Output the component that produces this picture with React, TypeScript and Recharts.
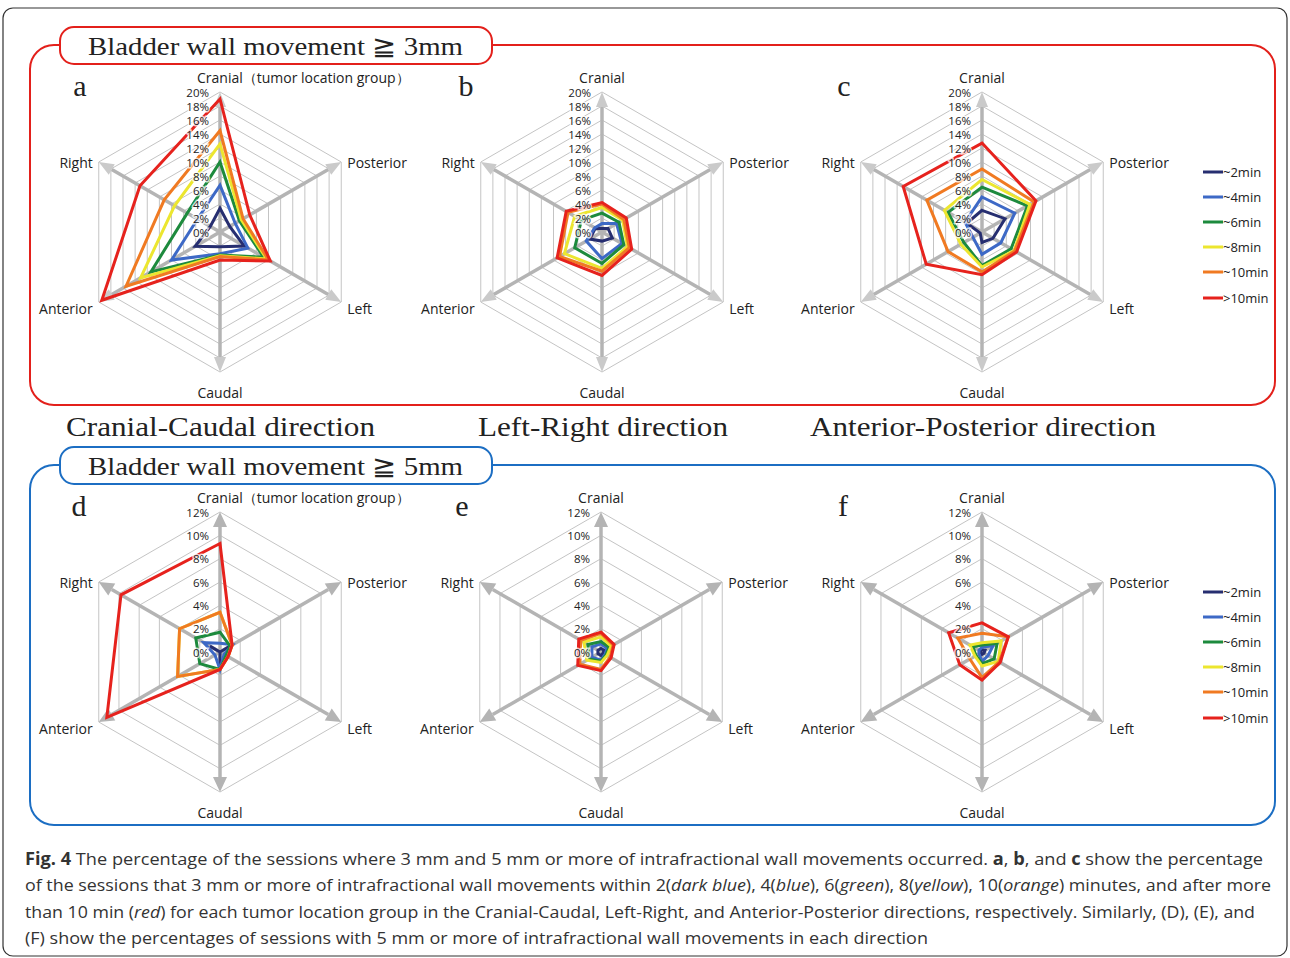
import React from "react";
import {
  Legend,
  PolarAngleAxis,
  PolarGrid,
  PolarRadiusAxis,
  Radar,
  RadarChart,
} from "recharts";

// axis order runs clockwise from the top
const directions = ["Cranial", "Posterior", "Left", "Caudal", "Anterior", "Right"];
const seriesNames = ["~2min", "~4min", "~6min", "~8min", "~10min", ">10min"];
const seriesColors = ["#262e70", "#3d69c6", "#1d8a3d", "#ece62f", "#f07a22", "#e6221d"];

// percent of sessions, one row per series, one column per direction
const move3CranialCaudal = [
  [3.4, 1.6, 4.0, 2.1, 4.1, 1.6],
  [6.7, 2.5, 4.6, 3.1, 8.0, 3.7],
  [10.0, 3.2, 7.2, 3.3, 11.4, 5.4],
  [12.6, 3.5, 7.7, 3.4, 13.1, 7.5],
  [14.5, 3.8, 8.0, 3.5, 15.5, 9.2],
  [19.0, 4.9, 8.3, 4.0, 19.5, 13.2],
];
const move3LeftRight = [
  [0.5, 1.0, 1.7, 1.3, 2.0, 1.1],
  [1.2, 2.4, 3.3, 3.8, 2.6, 1.2],
  [2.7, 2.8, 3.6, 4.5, 4.5, 3.4],
  [3.5, 3.4, 4.2, 5.2, 6.2, 4.5],
  [4.0, 3.6, 4.5, 5.6, 7.0, 5.6],
  [4.2, 4.0, 4.9, 6.2, 7.4, 5.9],
];
const move3AntPost = [
  [3.1, 3.8, 1.8, 1.5, 0.3, 2.5],
  [5.0, 5.4, 3.1, 3.2, 1.5, 2.8],
  [6.4, 7.5, 4.8, 4.8, 3.0, 5.6],
  [7.5, 7.9, 5.3, 5.0, 3.5, 6.2],
  [9.0, 8.6, 5.4, 5.7, 5.6, 9.1],
  [12.7, 8.9, 5.7, 6.1, 9.2, 13.0],
];
const move5CranialCaudal = [
  [0, 1.0, 0, 1.2, 0, 1.0],
  [0.75, 1.25, 0.4, 1.5, 0.5, 1.6],
  [1.7, 1.0, 0.6, 1.5, 2.0, 2.4],
  [3.4, 1.2, 0.8, 1.5, 4.2, 4.0],
  [3.4, 1.2, 0.8, 1.5, 4.2, 4.0],
  [9.3, 1.2, 0.8, 1.5, 11.2, 9.8],
];
const move5LeftRight = [
  [0.3, 0.3, 0.2, 0.3, 0.3, 0.3],
  [0.7, 0.6, 0.4, 0.7, 0.9, 0.9],
  [0.9, 0.8, 0.5, 0.8, 1.2, 1.3],
  [1.3, 1.0, 0.6, 0.9, 1.4, 1.7],
  [1.6, 1.2, 0.9, 1.5, 2.1, 2.0],
  [1.7, 1.3, 1.0, 1.6, 2.3, 2.2],
];
const move5AntPost = [
  [0.2, 0.3, 0.2, 0.2, 0.1, 0.2],
  [0.4, 1.1, 0.6, 0.8, 0.3, 0.3],
  [0.6, 1.5, 1.2, 1.0, 0.6, 0.9],
  [0.8, 1.9, 1.6, 1.2, 0.7, 1.2],
  [1.6, 2.6, 1.7, 2.2, 1.2, 2.4],
  [2.5, 2.6, 1.8, 2.4, 2.2, 3.3],
];

const ticks3mm = [0, 2, 4, 6, 8, 10, 12, 14, 16, 18, 20];
const ticks5mm = [0, 2, 4, 6, 8, 10, 12];

const CX = 190;
const CY = 175;
const R = 140;
const SANS = "'Open Sans', 'Noto Sans', sans-serif";
const SERIF = "'Liberation Serif', 'DejaVu Serif', serif";

const toRows = (values: number[][]) =>
  directions.map((dir, i) => {
    const row: Record<string, string | number> = { dir };
    seriesNames.forEach((_, j) => {
      row[`s${j}`] = values[j][i];
    });
    return row;
  });

// spoke, arrow head and direction name for one category
function AngleTick(props: any) {
  const { payload, note, arrowColor, arrowHalf } = props;
  const a = (payload.coordinate * Math.PI) / 180;
  const ux = Math.cos(a);
  const uy = -Math.sin(a);
  const tx = CX + ux * R;
  const ty = CY + uy * R;
  const bx = CX + ux * (R - 15);
  const by = CY + uy * (R - 15);
  const px = -uy * arrowHalf;
  const py = ux * arrowHalf;

  let lx = tx;
  let ly = ty;
  let anchor: "start" | "middle" | "end" = "middle";
  let label = payload.value;
  if (Math.abs(ux) < 0.01) {
    ly = uy < 0 ? ty - 15 : ty + 20;
    if (uy < 0 && note) {
      // keep "Cranial" centred on the spoke, the note runs on to the right
      label = `${payload.value}（tumor location group）`;
      anchor = "start";
      lx = tx - 23;
    }
  } else {
    anchor = ux > 0 ? "start" : "end";
    lx = tx + (ux > 0 ? 6 : -6);
    ly = ty + (uy > 0 ? 6 : 0);
  }

  return (
    <g>
      <line x1={CX} y1={CY} x2={bx} y2={by} stroke="#b4b4b4" strokeWidth={3.5} />
      <polygon
        points={`${tx},${ty} ${bx + px},${by + py} ${bx - px},${by - py}`}
        fill={arrowColor}
      />
      <text
        x={lx}
        y={ly}
        textAnchor={anchor}
        dominantBaseline="central"
        fontFamily={SANS}
        fontSize={14}
        fill="#222"
      >
        {label}
      </text>
    </g>
  );
}

function RadiusTick(props: any) {
  const { x, y, payload } = props;
  return (
    <text
      x={x - 11}
      y={y}
      textAnchor="end"
      dominantBaseline="central"
      fontFamily={SANS}
      fontSize={11.5}
      fill="#222"
      stroke="#fff"
      strokeOpacity={0.75}
      strokeWidth={3}
      paintOrder="stroke"
    >
      {`${payload.value}%`}
    </text>
  );
}

function TimeLegend(props: any) {
  const items = props.payload ?? [];
  return (
    <div style={{ fontFamily: SANS, fontSize: 13, color: "#222" }}>
      {seriesNames.map((name, i) => {
        const entry = items.find((it: any) => it.value === name);
        const color = entry?.color ?? seriesColors[i];
        return (
          <div key={name} style={{ display: "flex", alignItems: "center", height: 25.2 }}>
            <svg width={20} height={4} style={{ display: "block" }}>
              <line x1={0} y1={2} x2={20} y2={2} stroke={color} strokeWidth={3} />
            </svg>
            <span>{name}</span>
          </div>
        );
      })}
    </div>
  );
}

function Panel({
  values,
  ticks,
  left,
  top,
  width,
  note,
  legend,
  arrowColor,
  arrowHalf,
}: {
  values: number[][];
  ticks: number[];
  left: number;
  top: number;
  width: number;
  note: boolean;
  legend: boolean;
  arrowColor: string;
  arrowHalf: number;
}) {
  return (
    <div style={{ position: "absolute", left, top }}>
      <RadarChart
        width={width}
        height={350}
        data={toRows(values)}
        cx={CX}
        cy={CY}
        outerRadius={R}
        margin={{ top: 0, right: 0, bottom: 0, left: 0 }}
      >
        <PolarGrid gridType="polygon" radialLines={false} stroke="#c4c4c4" strokeWidth={1} />
        <PolarAngleAxis
          dataKey="dir"
          axisLine={false}
          tickLine={false}
          zIndex={-50}
          tick={(p: any) => (
            <AngleTick {...p} note={note} arrowColor={arrowColor} arrowHalf={arrowHalf} />
          )}
        />
        {seriesNames.map((name, j) => (
          <Radar
            key={name}
            name={name}
            dataKey={`s${j}`}
            stroke={seriesColors[j]}
            strokeWidth={3}
            fill="none"
            fillOpacity={0}
            dot={false}
            legendType="line"
            isAnimationActive={false}
          />
        ))}
        <PolarRadiusAxis
          angle={90}
          domain={[0, ticks[ticks.length - 1]]}
          tickCount={ticks.length}
          axisLine={false}
          tick={(p: any) => <RadiusTick {...p} />}
        />
        {legend ? (
          <Legend
            content={(p: any) => <TimeLegend {...p} />}
            wrapperStyle={{ position: "absolute", left: 411, top: 102, width: 80 }}
          />
        ) : null}
      </RadarChart>
    </div>
  );
}

export default function App() {
  const red = "#e3201b";
  const blue = "#1c6ec3";
  return (
    <div
      style={{
        position: "absolute",
        left: 0,
        top: 0,
        width: 1290,
        height: 958,
        overflow: "hidden",
        background: "#fff",
      }}
    >
      <svg width={1290} height={958} style={{ position: "absolute", left: 0, top: 0 }}>
        <rect x={3} y={8} width={1284} height={948} rx={10} fill="none" stroke="#333" strokeWidth={1.2} />

        <rect x={30} y={45} width={1245} height={360} rx={24} fill="none" stroke={red} strokeWidth={2} />
        <rect x={60} y={27} width={432} height={37} rx={14} fill="#fff" stroke={red} strokeWidth={2} />
        <text x={88} y={55} fontFamily={SERIF} fontSize={26} fill="#222" textLength={375} lengthAdjust="spacingAndGlyphs">
          Bladder wall movement ≧ 3mm
        </text>

        <rect x={30} y={465} width={1245} height={360} rx={24} fill="none" stroke={blue} strokeWidth={2} />
        <rect x={60} y={447} width={432} height={37} rx={14} fill="#fff" stroke={blue} strokeWidth={2} />
        <text x={88} y={475} fontFamily={SERIF} fontSize={26} fill="#222" textLength={375} lengthAdjust="spacingAndGlyphs">
          Bladder wall movement ≧ 5mm
        </text>

        <g fontFamily={SERIF} fontSize={28} fill="#222">
          <text x={66} y={436} textLength={309} lengthAdjust="spacingAndGlyphs">Cranial-Caudal direction</text>
          <text x={478} y={436} textLength={250} lengthAdjust="spacingAndGlyphs">Left-Right direction</text>
          <text x={810} y={436} textLength={346} lengthAdjust="spacingAndGlyphs">Anterior-Posterior direction</text>
        </g>

        <g fontFamily={SERIF} fontSize={30} fill="#222" textAnchor="middle">
          <text x={80} y={96}>a</text>
          <text x={466} y={96}>b</text>
          <text x={844} y={96}>c</text>
          <text x={79} y={516}>d</text>
          <text x={462} y={516}>e</text>
          <text x={843} y={516}>f</text>
        </g>

        <g fontFamily={SANS} fontSize={17} fill="#333">
          <text x={25} y={865} textLength={1238} lengthAdjust="spacingAndGlyphs">
            <tspan fontWeight="bold">Fig. 4</tspan> The percentage of the sessions where 3 mm and 5 mm or more of
            intrafractional wall movements occurred. <tspan fontWeight="bold">a</tspan>,{" "}
            <tspan fontWeight="bold">b</tspan>, and <tspan fontWeight="bold">c</tspan> show the percentage
          </text>
          <text x={25} y={891} textLength={1246} lengthAdjust="spacingAndGlyphs">
            of the sessions that 3 mm or more of intrafractional wall movements within 2(
            <tspan fontStyle="italic">dark blue</tspan>), 4(<tspan fontStyle="italic">blue</tspan>), 6(
            <tspan fontStyle="italic">green</tspan>), 8(<tspan fontStyle="italic">yellow</tspan>), 10(
            <tspan fontStyle="italic">orange</tspan>) minutes, and after more
          </text>
          <text x={25} y={918} textLength={1230} lengthAdjust="spacingAndGlyphs">
            than 10 min (<tspan fontStyle="italic">red</tspan>) for each tumor location group in the Cranial-Caudal,
            Left-Right, and Anterior-Posterior directions, respectively. Similarly, (D), (E), and
          </text>
          <text x={25} y={944} textLength={903} lengthAdjust="spacingAndGlyphs">
            (F) show the percentages of sessions with 5 mm or more of intrafractional wall movements in each direction
          </text>
        </g>
      </svg>

      <Panel values={move3CranialCaudal} ticks={ticks3mm} left={30} top={57} width={380} note legend={false} arrowColor="#cacaca" arrowHalf={6} />
      <Panel values={move3LeftRight} ticks={ticks3mm} left={412} top={57} width={380} note={false} legend={false} arrowColor="#cacaca" arrowHalf={6} />
      <Panel values={move3AntPost} ticks={ticks3mm} left={792} top={57} width={490} note={false} legend arrowColor="#cacaca" arrowHalf={6} />
      <Panel values={move5CranialCaudal} ticks={ticks5mm} left={30} top={477} width={380} note legend={false} arrowColor="#b4b4b4" arrowHalf={7} />
      <Panel values={move5LeftRight} ticks={ticks5mm} left={411} top={477} width={380} note={false} legend={false} arrowColor="#b4b4b4" arrowHalf={7} />
      <Panel values={move5AntPost} ticks={ticks5mm} left={792} top={477} width={490} note={false} legend arrowColor="#b4b4b4" arrowHalf={7} />
    </div>
  );
}
